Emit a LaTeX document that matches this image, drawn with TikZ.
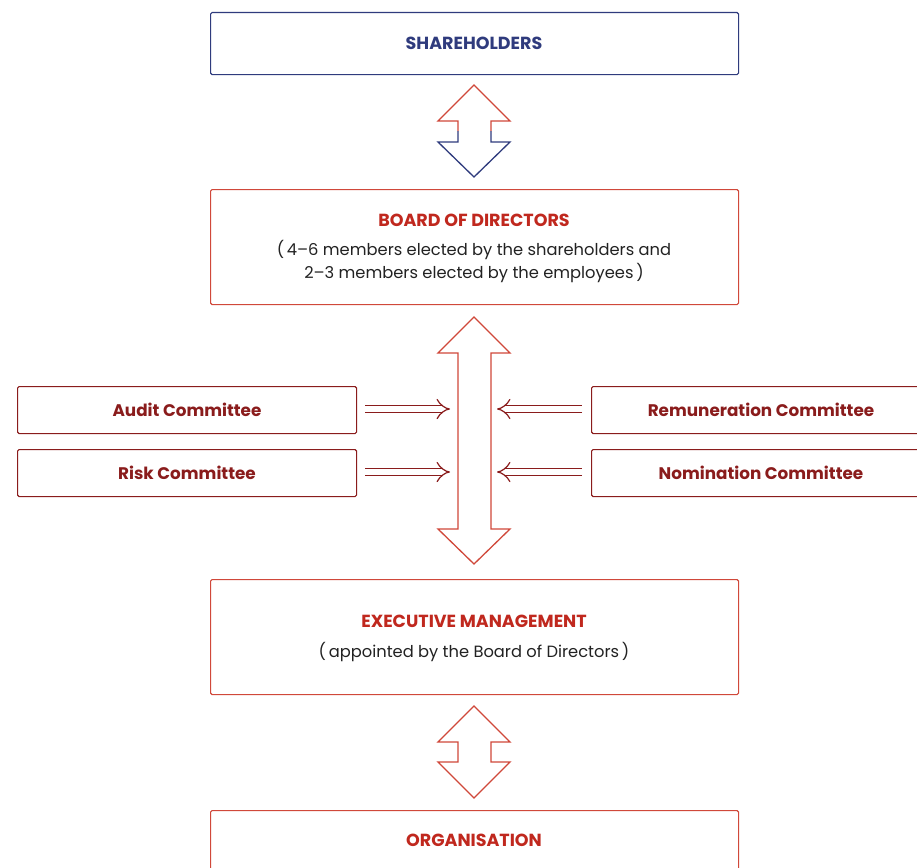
\documentclass[tikz,border=0pt]{standalone}
\usepackage{fontspec}
\setmainfont{Poppins}
\usetikzlibrary{arrows.meta}
\definecolor{navy}{HTML}{2F3B7D}
\definecolor{bred}{HTML}{D0483A}
\definecolor{tred}{HTML}{C0281E}
\definecolor{dred}{HTML}{8A1C1C}
\definecolor{ink}{HTML}{222222}
\tikzset{
  box/.style={draw, line width=1.1pt, rounded corners=1.5pt, anchor=north west, inner sep=0pt},
  outline/.style={line width=1.3pt, line join=miter},
  title/.style={font=\bfseries\fontsize{17.5}{20}\selectfont},
  sub/.style={font=\fontsize{16.3}{23}\selectfont, text=ink, align=center},
  cbox/.style={box, draw=dred, minimum height=47pt},
  ctext/.style={font=\bfseries\fontsize{16.8}{19}\selectfont, text=dred},
  feed/.style={draw=dred, line width=1.2pt, double distance=6pt, -{Implies[length=9pt]}},
}
\begin{document}
\begin{tikzpicture}[x=1pt,y=-1pt]
\clip (0,0) rectangle (917,867);
\fill[white] (0,0) rectangle (917,867);
% boxes
\node[box, draw=navy, minimum width=528pt, minimum height=62pt] (sh) at (210,12) {};
\node[title, text=navy] (shT) at (474,43) {SHAREHOLDERS};
\node[box, draw=bred, minimum width=528pt, minimum height=115pt] (bd) at (210,189) {};
\node[title, text=tred] (bdT) at (474,220) {BOARD OF DIRECTORS};
\node[sub] (bdS) at (474,262) {(\,4–6 members elected by the shareholders and\\2–3 members elected by the employees\,)};
\node[box, draw=bred, minimum width=528pt, minimum height=115pt] (em) at (210,579) {};
\node[title, text=tred] (emT) at (474,621) {EXECUTIVE MANAGEMENT};
\node[sub] (emS) at (474,652) {(\,appointed by the Board of Directors\,)};
\node[box, draw=bred, minimum width=528pt, minimum height=80pt] (org) at (210,810) {};
\node[title, text=tred] (orgT) at (474,840) {ORGANISATION};
% committees
\node[cbox, minimum width=339pt] (aud) at (17,386) {};
\node[ctext] at (187,410) {Audit Committee};
\node[cbox, minimum width=339pt] (risk) at (17,449) {};
\node[ctext] at (187,473) {Risk Committee};
\node[cbox, minimum width=360pt] (rem) at (591,386) {};
\node[ctext] at (761,410) {Remuneration Committee};
\node[cbox, minimum width=360pt] (nom) at (591,449) {};
\node[ctext] at (761,473) {Nomination Committee};
% double arrow 1 (red top, blue bottom)
\draw[outline, draw=bred] (458,131) -- (458,121) -- (438,121) -- (474,85) -- (510,121) -- (491,121) -- (491,131);
\draw[outline, draw=navy] (458,131) -- (458,142) -- (438,142) -- (474,177) -- (510,142) -- (491,142) -- (491,131);
% long arrow
\draw[outline, draw=bred] (474,317) -- (510,353) -- (491,353) -- (491,529) -- (510,529) -- (474,564) -- (438,529) -- (458,529) -- (458,353) -- (438,353) -- cycle;
% double arrow 3
\draw[outline, draw=bred] (474,706) -- (510,742) -- (491,742) -- (491,762) -- (510,762) -- (474,798) -- (438,762) -- (458,762) -- (458,742) -- (438,742) -- cycle;
% feeds
\coordinate (aIn) at (450,409);
\coordinate (rIn) at (450,472);
\coordinate (remIn) at (497,409);
\coordinate (nomIn) at (497,472);
\draw[feed] ([xshift=8pt]aud.east |- aIn) -- (aIn);
\draw[feed] ([xshift=8pt]risk.east |- rIn) -- (rIn);
\draw[feed] ([xshift=-9pt]rem.west |- remIn) -- (remIn);
\draw[feed] ([xshift=-9pt]nom.west |- nomIn) -- (nomIn);
\end{tikzpicture}
\end{document}
